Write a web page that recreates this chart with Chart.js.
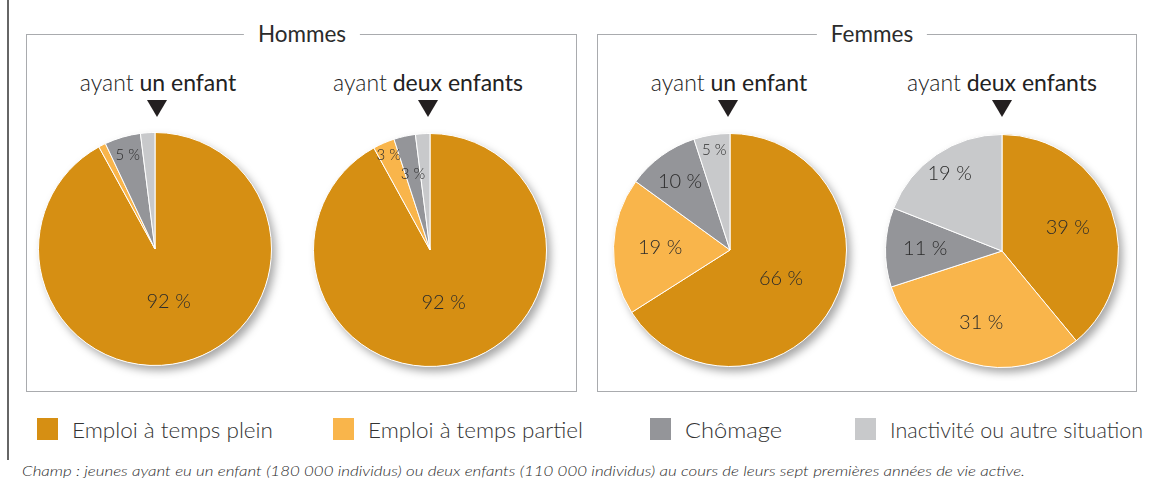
<!DOCTYPE html>
<html>
<head>
<meta charset="utf-8">
<script src="https://cdn.jsdelivr.net/npm/chart.js@4.4.1/dist/chart.umd.min.js"></script>
<style>
  body { margin: 0; background: #fff; width: 1173px; height: 479px; position: relative; overflow: hidden;
         font-family: Lato, "Open Sans", sans-serif; color: #2b2b2b; }
  .vline { position: absolute; left: 7px; top: 0; width: 2px; height: 460px; background: #666; }
  .box { position: absolute; top: 34px; height: 358px; border: 1.5px solid #a9abae; box-sizing: border-box; }
  .box-title { position: absolute; top: 20px; background: #fff; padding: 0 14px; font-size: 22.5px;
               font-weight: 400; line-height: 28px; transform: translateX(-50%); white-space: nowrap; }
  .sub { position: absolute; top: 68px; font-size: 23px; line-height: 28px; transform: translateX(-50%);
         white-space: nowrap; color: #222; }
  .sub .l { font-weight: 300; }
  .sub .b { font-weight: 400; }
  .arrow { position: absolute; top: 100px; width: 0; height: 0; border-left: 10px solid transparent;
           border-right: 10px solid transparent; border-top: 17px solid #231f20; transform: translateX(-50%); }
  .pie { position: absolute; width: 260px; height: 260px; }
  .leg-sq { position: absolute; top: 418px; width: 21px; height: 22px; }
  .leg-tx { position: absolute; top: 416px; font-size: 21px; font-weight: 300; line-height: 28px;
            white-space: nowrap; transform-origin: 0 50%; color: #333; }
  .foot { position: absolute; left: 22px; top: 462px; font-size: 14px; font-style: italic; font-weight: 300;
          line-height: 18px; white-space: nowrap; transform-origin: 0 50%; color: #2b2b2b; }
</style>
</head>
<body>
<div class="vline"></div>
<div class="box" style="left:26px;width:551px"></div>
<div class="box" style="left:597px;width:540px"></div>
<div class="box-title" style="left:302px">Hommes</div>
<div class="box-title" style="left:872px">Femmes</div>

<div class="sub" style="left:158px"><span class="l">ayant</span> <span class="b">un enfant</span></div>
<div class="sub" style="left:428px"><span class="l">ayant</span> <span class="b">deux enfants</span></div>
<div class="sub" style="left:729px"><span class="l">ayant</span> <span class="b">un enfant</span></div>
<div class="sub" style="left:1002px"><span class="l">ayant</span> <span class="b">deux enfants</span></div>
<div class="arrow" style="left:157px"></div>
<div class="arrow" style="left:428px"></div>
<div class="arrow" style="left:728px"></div>
<div class="arrow" style="left:1002px"></div>

<div class="pie" style="left:25px;top:119px"><canvas id="pieH1"></canvas></div>
<div class="pie" style="left:300px;top:120px"><canvas id="pieH2"></canvas></div>
<div class="pie" style="left:600px;top:120px"><canvas id="pieF1"></canvas></div>
<div class="pie" style="left:872px;top:121px"><canvas id="pieF2"></canvas></div>

<div id="legend"></div>
<div class="foot" id="foot">Champ : jeunes ayant eu un enfant (180 000 individus) ou deux enfants (110 000 individus) au cours de leurs sept premières années de vie active.</div>

<script>
// categories and colours
const categories = ["Emploi à temps plein", "Emploi à temps partiel", "Chômage", "Inactivité ou autre situation"];
const colors = ["#d68f13", "#f9b54b", "#949599", "#c8c9cb"];

// parts en %, dans l'ordre des catégories
const hommesUnEnfant = [92, 1, 5, 2];
const hommesDeuxEnfants = [92, 3, 3, 2];
const femmesUnEnfant = [66, 19, 10, 5];
const femmesDeuxEnfants = [39, 31, 11, 19];

// ombre portée sous le camembert
const pieShadow = {
    id: 'pieShadow',
    beforeDatasetsDraw(chart) {
        const arc = chart.getDatasetMeta(0).data[0];
        const p = arc.getProps(['x', 'y', 'outerRadius']);
        const ctx = chart.ctx;
        ctx.save();
        ctx.shadowColor = 'rgba(0,0,0,0.35)';
        ctx.shadowBlur = 9;
        ctx.shadowOffsetX = 4;
        ctx.shadowOffsetY = 5;
        ctx.beginPath();
        ctx.arc(p.x, p.y, p.outerRadius, 0, Math.PI * 2);
        ctx.fillStyle = '#fff';
        ctx.fill();
        ctx.restore();
    }
};

// étiquettes "xx %" dans les parts
const sliceLabels = {
    id: 'sliceLabels',
    afterDatasetsDraw(chart, args, opts) {
        const ctx = chart.ctx;
        const values = chart.data.datasets[0].data;
        ctx.save();
        ctx.fillStyle = '#2b2b2b';
        ctx.textAlign = 'center';
        ctx.textBaseline = 'middle';
        chart.getDatasetMeta(0).data.forEach((arc, i) => {
            if (values[i] < 3) return;
            const p = arc.getProps(['x', 'y', 'startAngle', 'endAngle', 'outerRadius']);
            const mid = (p.startAngle + p.endAngle) / 2;
            const r = p.outerRadius * opts.radius[i];
            ctx.font = (values[i] <= 5 ? '300 15px' : '300 20px') + ' Lato';
            ctx.fillText(values[i] + ' %', p.x + Math.cos(mid) * r, p.y + Math.sin(mid) * r);
        });
        ctx.restore();
    }
};

const makePie = (id, values, labelRadius) => {
    new Chart(document.getElementById(id), {
        type: 'pie',
        data: {
            labels: categories,
            datasets: [{
                data: values,
                backgroundColor: colors,
                borderColor: '#fff',
                borderWidth: 1
            }]
        },
        options: {
            responsive: true,
            maintainAspectRatio: false,
            animation: false,
            layout: { padding: 13 },
            plugins: {
                legend: { display: false },
                tooltip: { enabled: false },
                sliceLabels: { radius: labelRadius }
            }
        },
        plugins: [pieShadow, sliceLabels]
    });
};

makePie("pieH1", hommesUnEnfant, [0.47, 0.8, 0.84, 0.8]);
makePie("pieH2", hommesDeuxEnfants, [0.47, 0.89, 0.67, 0.8]);
makePie("pieF1", femmesUnEnfant, [0.5, 0.6, 0.73, 0.87]);
makePie("pieF2", femmesDeuxEnfants, [0.6, 0.64, 0.66, 0.8]);

// légende
const legendX = [37, 333, 650, 855];
const legendW = [201, 215, 97, 253];
const legend = document.getElementById("legend");
categories.forEach((c, i) => {
    const sq = document.createElement("div");
    sq.className = "leg-sq";
    sq.style.left = legendX[i] + "px";
    sq.style.background = colors[i];
    legend.appendChild(sq);
    const tx = document.createElement("div");
    tx.className = "leg-tx";
    tx.style.left = (legendX[i] + 35) + "px";
    tx.textContent = c;
    legend.appendChild(tx);
    const w = tx.getBoundingClientRect().width;
    tx.style.transform = "scaleX(" + (legendW[i] / w) + ")";
});

const foot = document.getElementById("foot");
foot.style.transform = "scaleX(" + (1003 / foot.getBoundingClientRect().width) + ")";
</script>
</body>
</html>
